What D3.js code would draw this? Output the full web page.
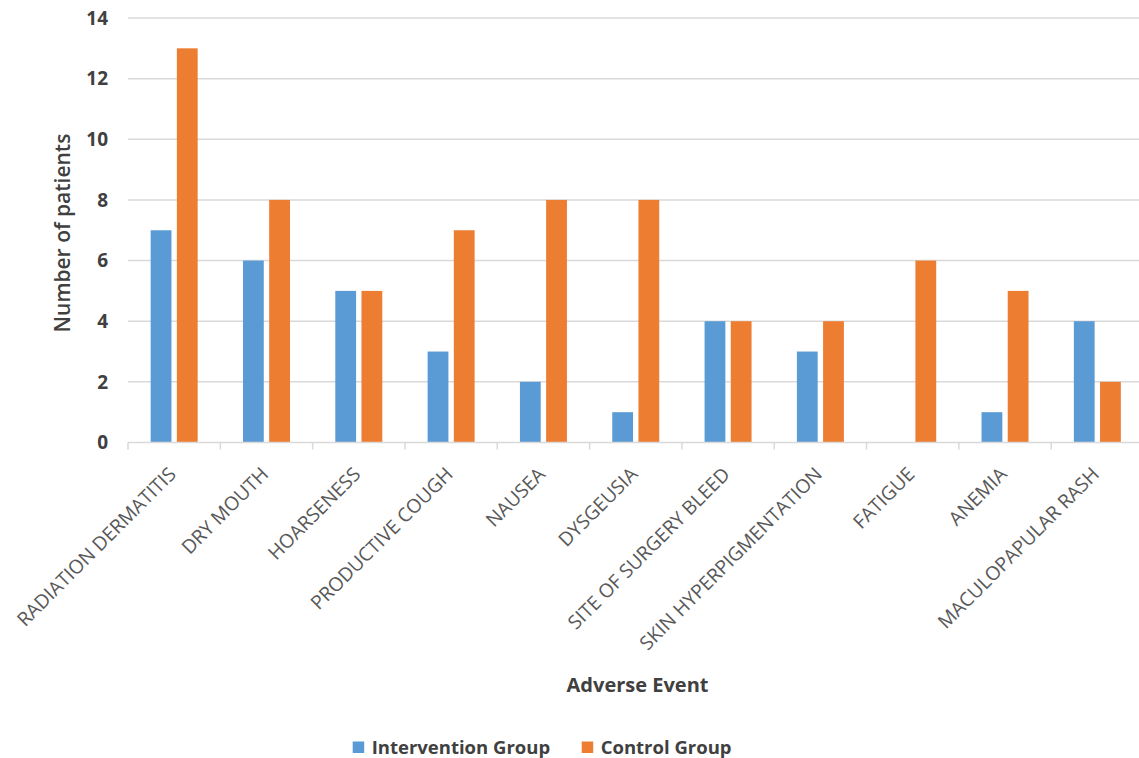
<!DOCTYPE html>
<html>
<head>
<meta charset="utf-8">
<script src="https://cdn.jsdelivr.net/npm/d3@7"></script>
<style>
  html, body { margin: 0; padding: 0; background: #fff; }
  svg { display: block; font-family: "Open Sans", sans-serif; }
</style>
</head>
<body>
<svg id="chart" width="1139" height="758"></svg>
<script>
const categories = ["RADIATION DERMATITIS", "DRY MOUTH", "HOARSENESS", "PRODUCTIVE COUGH", "NAUSEA", "DYSGEUSIA", "SITE OF SURGERY BLEED", "SKIN HYPERPIGMENTATION", "FATIGUE", "ANEMIA", "MACULOPAPULAR RASH"];
const seriesNames = ["Intervention Group", "Control Group"];
const interventionValues = [7, 6, 5, 3, 2, 1, 4, 3, 0, 1, 4];
const controlValues = [13, 8, 5, 7, 8, 8, 4, 4, 6, 5, 2];
const yTicks = [0, 2, 4, 6, 8, 10, 12, 14];
const colors = ["#5B9BD5", "#ED7D31"];

(function () {
const svg = d3.select("#chart");
const W = 1139;
const pLeft = 128, pRight = 1143.5, pTop = 18, pBottom = 442.5;

const x0 = d3.scaleBand().domain(categories).range([pLeft, pRight]).paddingInner(0).paddingOuter(0);
const x1 = d3.scaleBand().domain(seriesNames).range([0, x0.step()]).paddingInner(0.206).paddingOuter(0.865);
const y = d3.scaleLinear().domain([0, 14]).range([pBottom, pTop]);

// gridlines
svg.append("g").selectAll("line").data(yTicks.filter(d => d > 0)).join("line")
  .attr("x1", pLeft).attr("x2", W).attr("y1", d => y(d)).attr("y2", d => y(d))
  .attr("stroke", "#D9D9D9").attr("stroke-width", 1.5);

// bars
const rows = categories.map((c, i) => ({ c, vals: [interventionValues[i], controlValues[i]] }));
const g = svg.append("g").selectAll("g").data(rows).join("g")
  .attr("transform", d => `translate(${x0(d.c)},0)`);
g.selectAll("rect").data(d => d.vals.map((v, k) => ({ k, v }))).join("rect")
  .attr("x", d => x1(seriesNames[d.k]))
  .attr("width", x1.bandwidth())
  .attr("y", d => y(d.v))
  .attr("height", d => y(0) - y(d.v))
  .attr("fill", d => colors[d.k]);

// x axis line + ticks
const xAxis = svg.append("g");
xAxis.append("line").attr("x1", pLeft).attr("x2", W).attr("y1", y(0)).attr("y2", y(0))
  .attr("stroke", "#D9D9D9").attr("stroke-width", 1.5);
const boundaries = categories.map(c => x0(c)).concat([pRight]);
xAxis.selectAll("line.tick").data(boundaries).join("line").attr("class", "tick")
  .attr("x1", d => d).attr("x2", d => d).attr("y1", y(0)).attr("y2", y(0) + 7)
  .attr("stroke", "#D9D9D9").attr("stroke-width", 1.5);

// category labels
xAxis.selectAll("text").data(categories).join("text")
  .attr("transform", d => `translate(${x0(d) + x0.bandwidth() / 2 + 3},${y(0) + 33}) rotate(-45)`)
  .attr("text-anchor", "end")
  .attr("font-size", 19.3)
  .attr("fill", "#595959")
  .text(d => d);

// y tick labels
svg.append("g").selectAll("text").data(yTicks).join("text")
  .attr("x", 108).attr("y", d => y(d)).attr("dy", "0.36em")
  .attr("text-anchor", "end")
  .attr("font-size", 19).attr("font-weight", 700).attr("fill", "#404040")
  .text(d => d);

// y title
svg.append("text")
  .attr("transform", `translate(70,233) rotate(-90)`)
  .attr("text-anchor", "middle")
  .attr("font-size", 21).attr("font-weight", 600).attr("fill", "#404040")
  .text("Number of patients");

// x title
svg.append("text")
  .attr("x", 637.5).attr("y", 692)
  .attr("text-anchor", "middle")
  .attr("font-size", 20).attr("font-weight", 700).attr("fill", "#404040")
  .text("Adverse Event");

// legend
const legend = svg.append("g");
const legendX = [352.7, 581.7];
seriesNames.forEach((s, i) => {
  legend.append("rect").attr("x", legendX[i]).attr("y", 741.5).attr("width", 11.5).attr("height", 11.5).attr("fill", colors[i]);
  legend.append("text").attr("x", legendX[i] + 19).attr("y", 754)
    .attr("font-size", 18.5).attr("font-weight", 700).attr("fill", "#404040").text(s);
});
})();
</script>
</body>
</html>
